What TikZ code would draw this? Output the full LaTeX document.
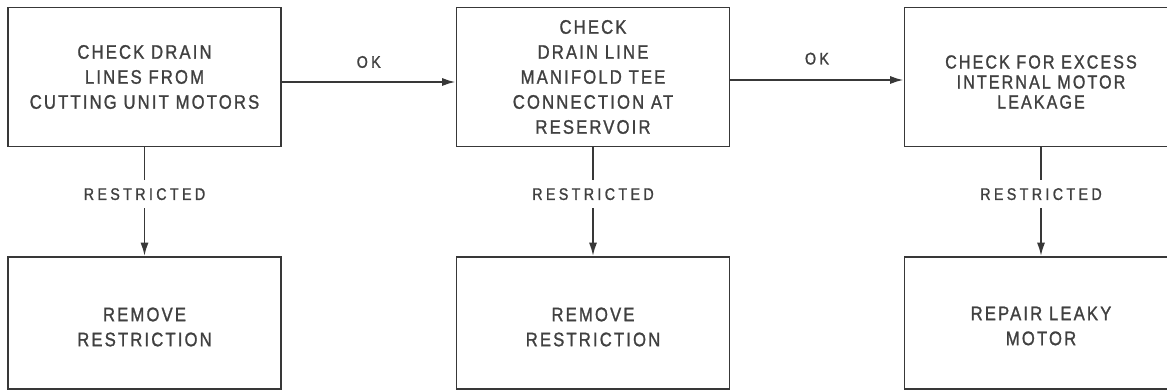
\documentclass[tikz,border=0pt]{standalone}
\usepackage{fontspec}
\setmainfont{Liberation Sans}
\newfontfamily\boxfont[FakeStretch=0.85,LetterSpace=11,FakeBold=1.2]{Liberation Sans}
\newfontfamily\labfont[FakeStretch=0.85,LetterSpace=20,FakeBold=1.2]{Liberation Sans}
\usetikzlibrary{arrows.meta,calc}
\definecolor{ink}{HTML}{383838}
\definecolor{txt}{HTML}{404040}
\begin{document}
\begin{tikzpicture}[x=0.75pt,y=-0.75pt,
  boxtext/.style={inner sep=0pt, align=center, text=txt, font=\boxfont\fontsize{14.7}{18.75}\selectfont},
  box/.style={draw=ink, line width=1.4pt, minimum width=204.75pt, boxtext},
  topbox/.style={box, minimum height=104.25pt},
  botbox/.style={box, minimum height=99pt},
  lab/.style={text=txt, font=\labfont\fontsize{12.6}{14}\selectfont},
  vlab/.style={lab, fill=white, inner xsep=2pt, inner ysep=0pt, minimum height=21pt},
  arr/.style={draw=ink, line width=1.4pt, -{Latex[length=10pt,width=6pt]}}]
\useasboundingbox (0,0) rectangle (1167,391);
\clip (0,0) rectangle (1167,391);
\fill[white] (0,0) rectangle (1167,391);

\node[topbox] (b1) at (144.5,77) {CHECK DRAIN\\LINES FROM\\CUTTING UNIT MOTORS};
\node[topbox] (b2) at (593,77) {CHECK\\DRAIN LINE\\MANIFOLD TEE\\CONNECTION AT\\RESERVOIR};
\node[topbox] (b3) at (1041,77) {};
\node[boxtext, font=\boxfont\fontsize{14.2}{15}\selectfont] (t3) at ($(b3)+(0,5)$) {CHECK FOR EXCESS\\INTERNAL MOTOR\\LEAKAGE};

\node[botbox] (b4) at (144.5,323) {};
\node[botbox] (b5) at (593,323) {};
\node[botbox] (b6) at (1041,323) {};
\node[boxtext] (t4) at ($(b4)+(0,4)$) {REMOVE\\RESTRICTION};
\node[boxtext] (t5) at ($(b5)+(0,4)$) {REMOVE\\RESTRICTION};
\node[boxtext] (t6) at ($(b6)+(0,3)$) {REPAIR LEAKY\\MOTOR};

\draw[arr] ($(b1.east)+(0,5)$) -- node[lab, yshift=15pt] {OK} ($(b2.west)+(0,5)$);
\draw[arr] ($(b2.east)+(0,3)$) -- node[lab, yshift=16pt] {OK} ($(b3.west)+(0,3)$);

\draw[arr] (b1) -- node[vlab, pos=0.43] {RESTRICTED} (b4);
\draw[arr] (b2) -- node[vlab, pos=0.43] {RESTRICTED} (b5);
\draw[arr] (b3) -- node[vlab, pos=0.43] {RESTRICTED} (b6);
\end{tikzpicture}
\end{document}
